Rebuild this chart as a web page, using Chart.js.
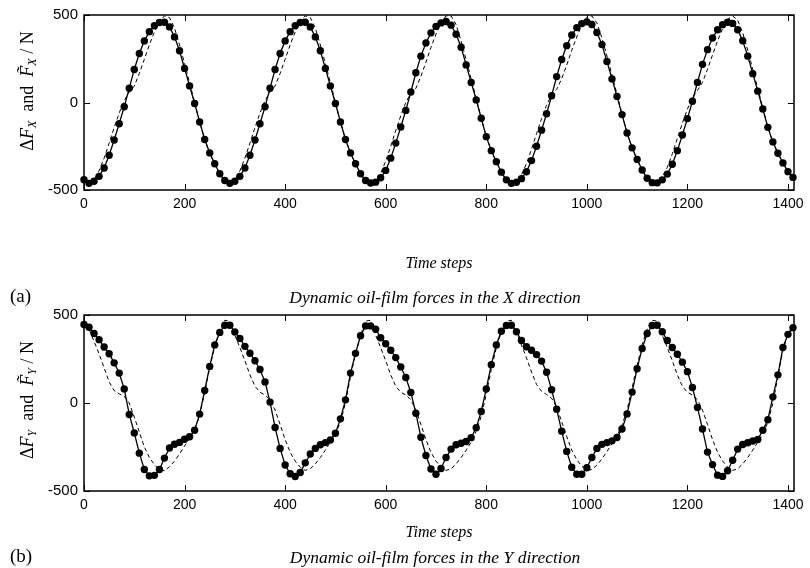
<!DOCTYPE html>
<html lang="en">
<head>
    <meta charset="UTF-8">
    <title>Dynamic oil-film forces</title>
    <style type="text/css">
        body { margin: 0; background: #fff; }
        .page { position: relative; width: 810px; height: 568px; overflow: hidden; font-family: "Liberation Serif", serif; color: #000; }
        canvas { position: absolute; left: 0; }
        #chartX { top: 0; }
        #chartY { top: 300px; }
        .ylab { position: absolute; white-space: nowrap; font-size: 18px; transform: translate(-50%, -50%) rotate(-90deg); }
        .ylab sub { font-size: 12px; vertical-align: -3px; }
        .caption { position: absolute; white-space: nowrap; font-style: italic; font-size: 17.5px; transform: translate(-50%, -50%); }
        .tag { position: absolute; font-size: 19px; transform: translateY(-50%); }
    </style>
</head>
<body>
<div class="page">
    <canvas id="chartX" width="810" height="300"></canvas>
    <canvas id="chartY" width="810" height="268"></canvas>

    <div class="ylab" style="left:28px; top:91px;">&Delta;<i>F</i><sub><i>X</i></sub>&nbsp; and &nbsp;<i>F&#771;</i><sub><i>X</i></sub> / N</div>
    <div class="ylab" style="left:28px; top:400px;">&Delta;<i>F</i><sub><i>Y</i></sub>&nbsp; and &nbsp;<i>F&#771;</i><sub><i>Y</i></sub> / N</div>

    <div class="tag" style="left:10px; top:296px;">(a)</div>
    <div class="caption" style="left:435px; top:297px;">Dynamic oil-film forces in the <i>X</i> direction</div>
    <div class="tag" style="left:10px; top:556px;">(b)</div>
    <div class="caption" style="left:435px; top:557px;">Dynamic oil-film forces in the <i>Y</i> direction</div>
</div>

<script src="https://cdn.jsdelivr.net/npm/chart.js"></script>
<script>
// sampled every 10 time steps
const timeSteps = [
    0, 10, 20, 30, 40, 50, 60, 70, 80, 90, 100, 110, 120, 130, 140, 150, 160, 170, 180, 190, 200, 210, 220, 230, 240, 250, 260, 270, 280, 290,
    300, 310, 320, 330, 340, 350, 360, 370, 380, 390, 400, 410, 420, 430, 440, 450, 460, 470, 480, 490, 500, 510, 520, 530, 540, 550, 560, 570, 580, 590,
    600, 610, 620, 630, 640, 650, 660, 670, 680, 690, 700, 710, 720, 730, 740, 750, 760, 770, 780, 790, 800, 810, 820, 830, 840, 850, 860, 870, 880, 890,
    900, 910, 920, 930, 940, 950, 960, 970, 980, 990, 1000, 1010, 1020, 1030, 1040, 1050, 1060, 1070, 1080, 1090, 1100, 1110, 1120, 1130, 1140, 1150, 1160, 1170, 1180, 1190,
    1200, 1210, 1220, 1230, 1240, 1250, 1260, 1270, 1280, 1290, 1300, 1310, 1320, 1330, 1340, 1350, 1360, 1370, 1380, 1390, 1400, 1410
];

// (a) X direction: delta F (solid, dots) and estimate F~ (dashed)
const forceX = [
    -441, -462, -450, -422, -374, -301, -214, -121, -24, 82, 189, 280, 352, 405, 439, 457, 459, 432, 375, 296, 195, 95, -6, -111, -211, -288, -350, -407, -446, -462,
    -450, -422, -374, -301, -214, -121, -24, 82, 189, 280, 352, 405, 439, 457, 459, 432, 375, 296, 195, 95, -6, -111, -211, -288, -350, -407, -446, -460, -455, -430,
    -388, -318, -232, -140, -45, 60, 170, 265, 340, 398, 435, 455, 463, 442, 390, 316, 215, 115, 15, -90, -195, -275, -338, -398, -442, -462, -456, -435, -396, -332,
    -250, -158, -64, 39, 148, 246, 325, 386, 428, 451, 461, 446, 400, 331, 235, 135, 35, -69, -174, -259, -325, -386, -433, -458, -459, -442, -409, -353, -275, -186,
    -92, 7, 115, 218, 302, 369, 416, 445, 459, 452, 416, 353, 265, 165, 65, -37, -142, -225, -290, -345, -395, -428
];
const forceXEst = [
    -446, -464, -441, -391, -318, -232, -143, -60, 11, 60, 94, 166, 247, 330, 403, 463, 495, 485, 426, 329, 223, 113, 2, -111, -211, -288, -352, -409, -449, -464,
    -441, -391, -318, -232, -143, -60, 11, 60, 94, 166, 247, 330, 403, 463, 495, 485, 426, 329, 223, 113, 2, -111, -211, -288, -352, -409, -449, -467, -450, -405,
    -335, -250, -160, -75, 0, 55, 80, 150, 230, 315, 390, 455, 495, 495, 445, 350, 245, 135, 25, -90, -195, -275, -340, -400, -445, -466, -454, -414, -349, -267,
    -178, -92, -15, 44, 75, 136, 214, 298, 375, 442, 487, 495, 455, 369, 266, 157, 47, -67, -174, -259, -327, -388, -436, -462, -459, -428, -370, -293, -205, -118,
    -38, 28, 68, 115, 190, 272, 352, 423, 475, 495, 470, 398, 298, 190, 80, -32, -142, -230, -290, -345, -395, -430
];

// (b) Y direction
const forceY = [
    446, 430, 395, 360, 318, 280, 228, 170, 80, -65, -170, -285, -378, -414, -411, -378, -313, -256, -234, -224, -206, -192, -155, -63, 71, 208, 330, 401, 442, 442,
    404, 367, 322, 283, 240, 190, 120, 5, -139, -258, -352, -402, -418, -395, -340, -290, -258, -237, -225, -210, -172, -90, 18, 170, 282, 382, 438, 438, 419, 371,
    337, 300, 258, 205, 145, 60, -58, -195, -298, -375, -405, -372, -310, -262, -237, -229, -219, -197, -140, -48, 80, 218, 330, 408, 440, 442, 405, 355, 320, 300,
    275, 238, 175, 75, -35, -160, -275, -365, -405, -405, -368, -310, -258, -235, -225, -215, -196, -148, -62, 62, 195, 310, 395, 440, 442, 405, 355, 315, 277, 232,
    178, 88, -25, -148, -279, -350, -410, -417, -385, -325, -262, -236, -226, -216, -207, -155, -95, 35, 160, 315, 390, 428
];
const forceYEst = [
    440, 420, 350, 280, 200, 120, 70, 52, 38, 0, -80, -165, -250, -310, -350, -380, -385, -362, -330, -290, -245, -200, -150, -70, 60, 200, 320, 410, 470, 465,
    385, 315, 240, 160, 95, 61, 45, 19, -40, -122, -208, -280, -330, -365, -383, -374, -346, -310, -268, -222, -175, -110, 0, 150, 280, 385, 465, 470, 385, 315,
    240, 160, 95, 61, 45, 19, -40, -122, -208, -280, -330, -365, -383, -374, -346, -310, -268, -222, -160, -75, 50, 190, 315, 405, 465, 470, 400, 330, 256, 176,
    105, 66, 48, 27, -24, -106, -191, -268, -322, -359, -382, -378, -353, -318, -276, -231, -185, -125, -40, 85, 215, 330, 420, 470, 465, 385, 315, 240, 160, 95,
    61, 45, 19, -40, -122, -208, -280, -330, -365, -383, -374, -346, -310, -268, -222, -175, -110, 0, 150, 300, 390, 440
];

const xTicks = [0, 200, 400, 600, 800, 1000, 1200, 1400];
const yTicks = [-500, 0, 500];
const xMax = 1412;

// box around the plot with inward ticks on all four sides
const boxTicks = {
    id: 'boxTicks',
    afterDatasetsDraw(chart) {
        const { ctx, chartArea: a, scales: { x, y } } = chart;
        ctx.save();
        ctx.strokeStyle = '#000';
        ctx.lineWidth = 1;
        ctx.beginPath();
        x.ticks.forEach(t => {
            const px = Math.round(x.getPixelForValue(t.value)) + 0.5;
            ctx.moveTo(px, a.bottom); ctx.lineTo(px, a.bottom - 6);
            ctx.moveTo(px, a.top); ctx.lineTo(px, a.top + 6);
        });
        y.ticks.forEach(t => {
            const py = Math.round(y.getPixelForValue(t.value)) + 0.5;
            ctx.moveTo(a.left, py); ctx.lineTo(a.left + 6, py);
            ctx.moveTo(a.right, py); ctx.lineTo(a.right - 6, py);
        });
        ctx.stroke();
        ctx.lineWidth = 1.5;
        ctx.strokeRect(a.left, a.top, a.width, a.height);
        ctx.restore();
    }
};

function pts(values) {
    return timeSteps.map((t, i) => ({ x: t, y: values[i] }));
}

function makeChart(id, solid, dashed, axisHeight, titleBottom) {
    return new Chart(document.getElementById(id), {
        type: 'line',
        data: {
            datasets: [{
                data: pts(dashed),
                borderColor: '#000',
                borderWidth: 1,
                borderDash: [4, 3],
                pointRadius: 0,
                clip: false
            }, {
                data: pts(solid),
                borderColor: '#000',
                borderWidth: 1.3,
                pointRadius: 3.7,
                pointBackgroundColor: '#000',
                pointBorderWidth: 0,
                clip: false
            }]
        },
        options: {
            responsive: false,
            animation: false,
            devicePixelRatio: 1,
            layout: { padding: { left: 0, right: 16, top: 13, bottom: 0 } },
            plugins: { legend: { display: false }, tooltip: { enabled: false } },
            elements: { line: { tension: 0 } },
            scales: {
                x: {
                    type: 'linear',
                    min: 0,
                    max: xMax,
                    afterBuildTicks: scale => { scale.ticks = xTicks.map(v => ({ value: v })); },
                    grid: { display: false, drawTicks: false },
                    border: { display: false },
                    ticks: {
                        color: '#000',
                        padding: 6,
                        maxRotation: 0,
                        autoSkip: false,
                        callback: v => String(v),
                        font: { family: "'Liberation Sans Narrow', 'Liberation Sans', sans-serif", size: 14 }
                    },
                    title: {
                        display: true,
                        text: 'Time steps',
                        color: '#000',
                        padding: { top: 4, bottom: titleBottom },
                        font: { family: "'Liberation Serif', serif", style: 'italic', size: 16 }
                    },
                    afterFit: scale => { scale.height = axisHeight; }
                },
                y: {
                    min: -500,
                    max: 500,
                    afterBuildTicks: scale => { scale.ticks = yTicks.map(v => ({ value: v })); },
                    grid: { display: false, drawTicks: false },
                    border: { display: false },
                    ticks: {
                        color: '#000',
                        padding: 6,
                        font: { family: "'Liberation Sans', sans-serif", size: 15 }
                    },
                    afterFit: scale => { scale.width = 84; }
                }
            }
        },
        plugins: [boxTicks]
    });
}

const chartX = makeChart('chartX', forceX, forceXEst, 110, 27);
const chartY = makeChart('chartY', forceY, forceYEst, 77, 26);
</script>
</body>
</html>
